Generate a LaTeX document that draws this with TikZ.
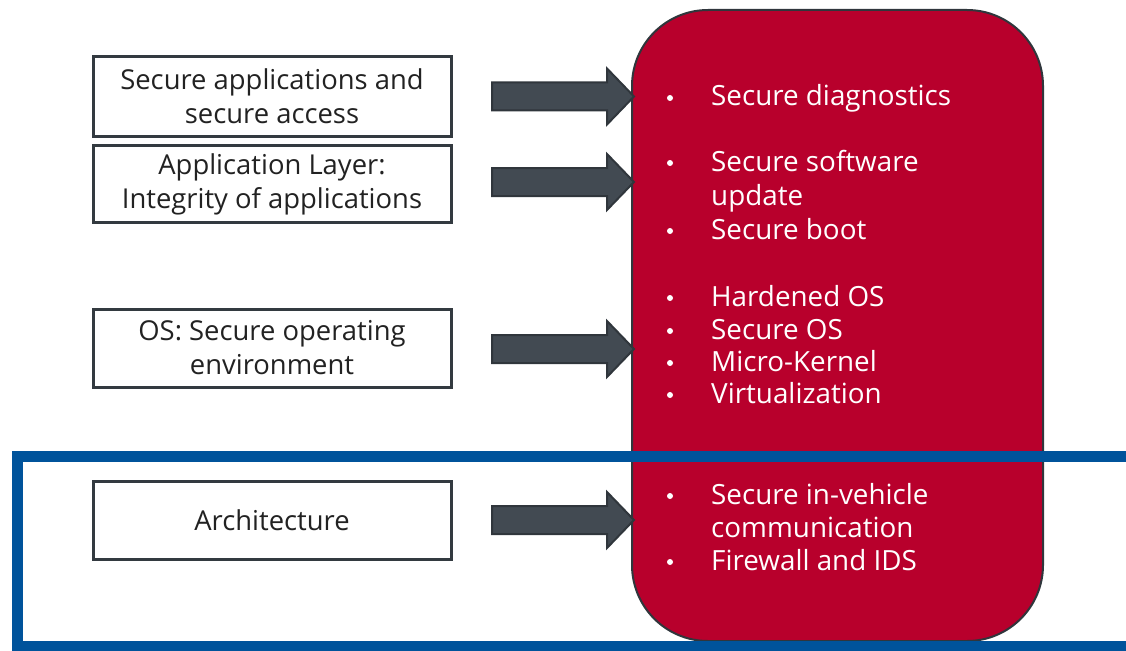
\documentclass[tikz,border=0pt]{standalone}
\usepackage{fontspec}
\setmainfont{Open Sans}
\definecolor{redfill}{HTML}{B8002C}
\definecolor{bluebox}{HTML}{00539B}
\definecolor{arrowfill}{HTML}{424A52}
\definecolor{arrowline}{HTML}{30363C}
\definecolor{boxline}{HTML}{333A40}
\definecolor{textdark}{HTML}{222222}
\tikzset{
  layerbox/.style={draw=boxline, line width=3pt, fill=white, minimum width=358pt, align=center,
    font=\fontsize{27.4}{34}\selectfont, text=textdark, inner sep=0pt},
  fatarrow/.style={fill=arrowfill, draw=arrowline, line width=2pt, line join=miter},
  item/.style={anchor=base west, text=white, font=\fontsize{27.8}{33}\selectfont, inner sep=0pt},
  bulletdot/.style={circle, fill=white, minimum size=6pt, inner sep=0pt}
}
\newcommand{\fatarr}[2]{% #1 = name, #2 = centre y
  \draw[fatarrow] (492,#2-14) -- (607,#2-14) -- (607,#2-28) -- (634,#2) -- (607,#2+28)
    -- (607,#2+14) -- (492,#2+14) -- cycle;
  \coordinate (#1) at (634,#2);
}
\begin{document}
\begin{tikzpicture}[x=1pt,y=-1pt]
\useasboundingbox (0,0) rectangle (1126,650);
\clip (0,0) rectangle (1126,650);
% red rounded panel
\node[draw=arrowline, line width=2pt, fill=redfill, rounded corners=76pt,
  minimum width=411pt, minimum height=631pt, inner sep=0pt] (panel) at (837.5,325.5) {};
% arrows
\fatarr{a1}{96.5}
\fatarr{a2}{182}
\fatarr{a3}{349}
\fatarr{a4}{520}
% left boxes
\node[layerbox, minimum height=80pt] (b1) at (272,96.5) {Secure applications and\\secure access};
\node[layerbox, minimum height=77pt] (b2) at (272,184) {Application Layer:\\Integrity of applications};
\node[layerbox, minimum height=78pt] (b3) at (272,348) {OS: Secure operating\\environment};
\node[layerbox, minimum height=78pt] (b4) at (272,520.5) {Architecture};
% bullet items
\foreach \n/\y/\t in {i1/106/Secure diagnostics, i2/171/Secure software, i3/239/Secure boot,
  i4/306/Hardened OS, i5/339/Secure OS, i6/371/Micro-Kernel, i7/403/Virtualization,
  i8/504/Secure in-vehicle, i9/570/Firewall and IDS}{
  \node[item] (\n) at (711,\y) {\t};
  \node[bulletdot] (\n d) at (670,\y-8) {};
}
\node[item] (i2b) at (711,205) {update};
\node[item] (i8b) at (711,537) {communication};
% blue frame
\draw[bluebox, line width=11pt] (1140,456.5) -- (17,456.5) -- (17,646) -- (1140,646);
\end{tikzpicture}
\end{document}
